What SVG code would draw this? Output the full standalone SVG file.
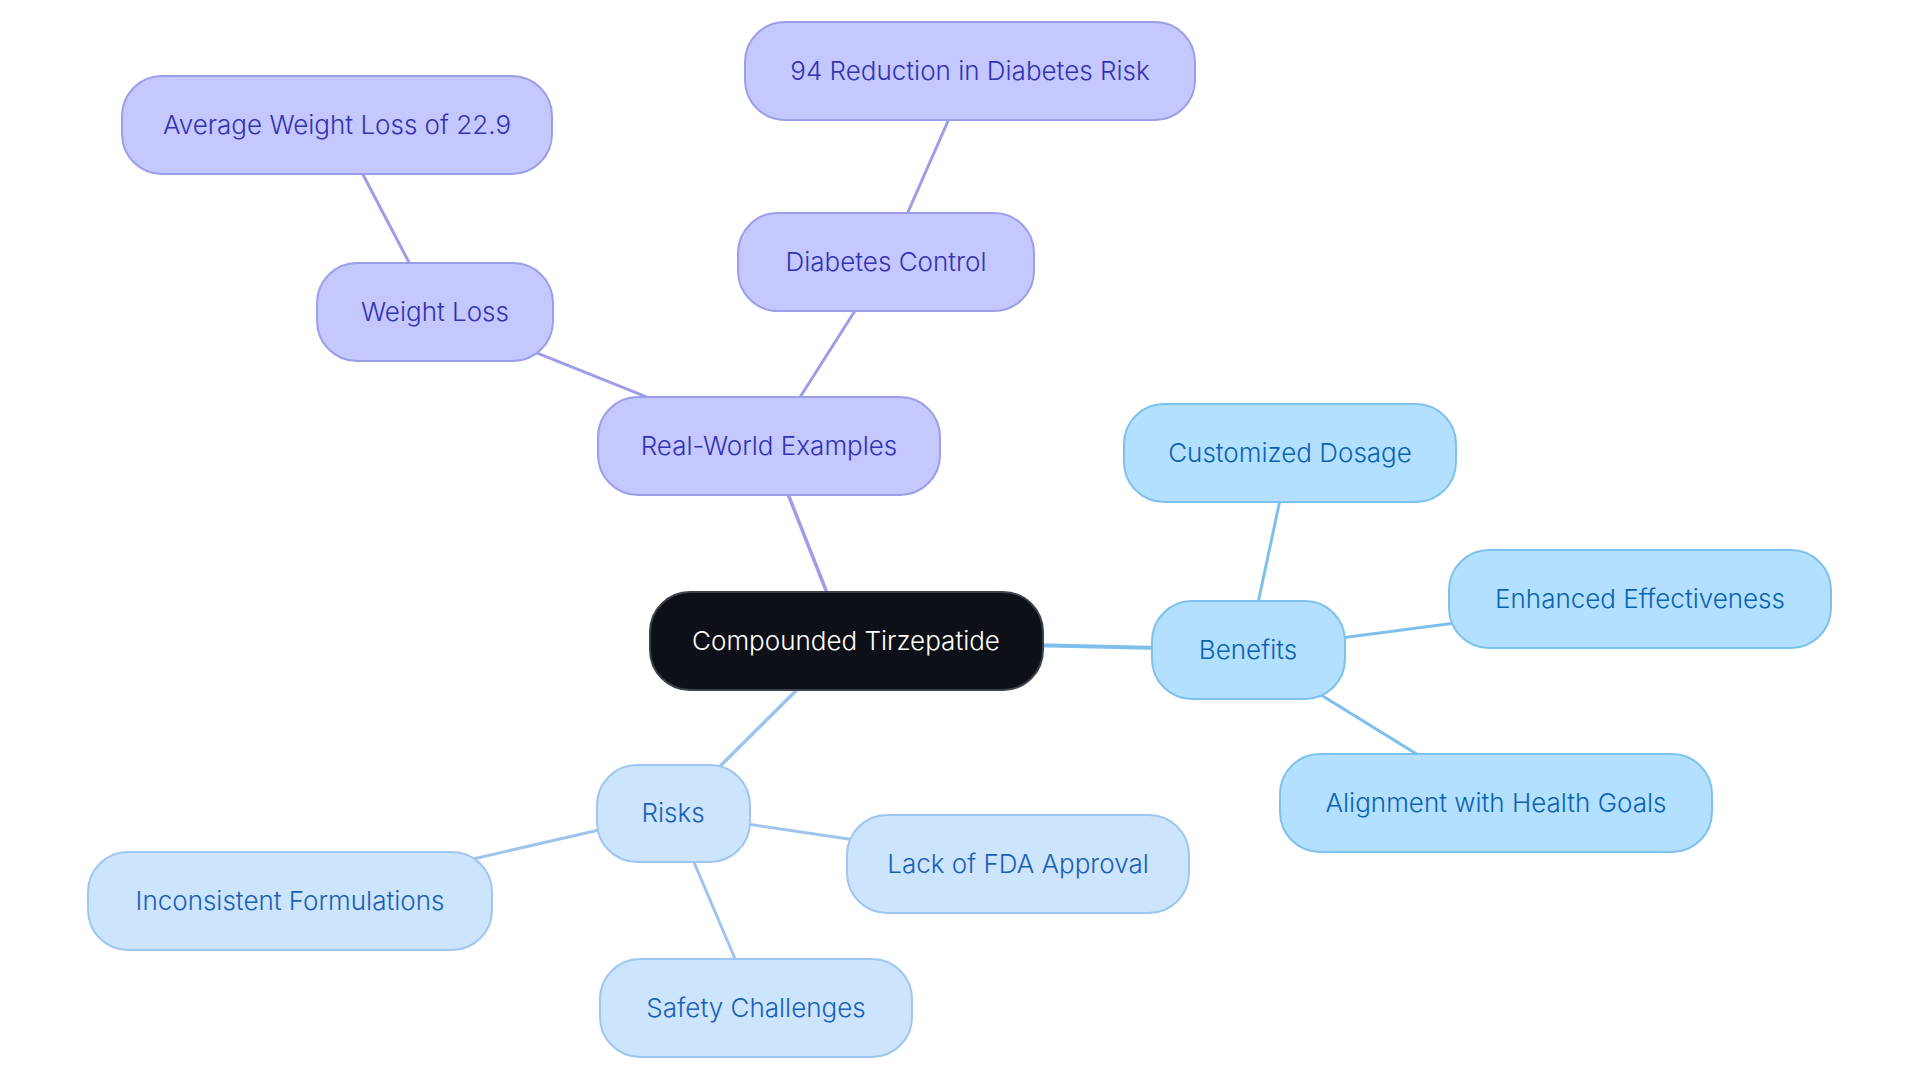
<svg xmlns="http://www.w3.org/2000/svg" width="1920" height="1083" viewBox="0 0 1920 1083">
<style>
  text { font-family: Inter, "Noto Sans", "Liberation Sans", sans-serif; font-size: 26px; font-weight: 300; text-anchor: middle; }
  .n rect { stroke-width: 2; }
  .p rect { fill: #c5c8fe; stroke: #9b9ee8; }
  .p text { fill: #3232b4; }
  .b rect { fill: #b3e0fe; stroke: #7ec1ee; }
  .b text { fill: #0b62b4; }
  .r rect { fill: #cce4fc; stroke: #9ec6f2; }
  .r text { fill: #1a5fb8; }
  .root rect { fill: #0d1117; stroke: #3d434c; }
  .root text { fill: #ffffff; }
  .e { stroke-linecap: round; fill: none; }
  .ep { stroke: #9d9de8; }
  .eb { stroke: #7fbfec; }
  .er { stroke: #9ec4ee; }
</style>
<rect width="1920" height="1083" fill="#ffffff"/>
<g id="connectors">
  <line class="e ep" stroke-width="3" x1="337" y1="125" x2="435" y2="312"/>
  <line class="e ep" stroke-width="3" x1="435" y1="312" x2="769" y2="446"/>
  <line class="e ep" stroke-width="3" x1="970" y1="71" x2="886" y2="262"/>
  <line class="e ep" stroke-width="3" x1="886" y1="262" x2="769" y2="446"/>
  <line class="e ep" stroke-width="3.5" x1="769" y1="446" x2="846" y2="641"/>
  <line class="e eb" stroke-width="4" x1="846" y1="641" x2="1248" y2="650"/>
  <line class="e eb" stroke-width="3" x1="1290" y1="453" x2="1248" y2="650"/>
  <line class="e eb" stroke-width="3" x1="1248" y1="650" x2="1640" y2="599"/>
  <line class="e eb" stroke-width="3" x1="1248" y1="650" x2="1496" y2="803"/>
  <line class="e er" stroke-width="3.5" x1="846" y1="641" x2="673" y2="813"/>
  <line class="e er" stroke-width="3" x1="673" y1="813" x2="1018" y2="864"/>
  <line class="e er" stroke-width="3" x1="673" y1="813" x2="290" y2="901"/>
  <line class="e er" stroke-width="3" x1="673" y1="813" x2="756" y2="1008"/>
</g>
<g id="node-avg-weight-loss" class="n p">
  <rect x="122" y="76" width="430" height="98" rx="40"/>
  <text x="337" y="134">Average Weight Loss of 22.9</text>
</g>
<g id="node-weight-loss" class="n p">
  <rect x="317" y="263" width="236" height="98" rx="40"/>
  <text x="435" y="321">Weight Loss</text>
</g>
<g id="node-94-reduction" class="n p">
  <rect x="745" y="22" width="450" height="98" rx="40"/>
  <text x="970" y="80">94 Reduction in Diabetes Risk</text>
</g>
<g id="node-diabetes-control" class="n p">
  <rect x="738" y="213" width="296" height="98" rx="40"/>
  <text x="886" y="271">Diabetes Control</text>
</g>
<g id="node-real-world" class="n p">
  <rect x="598" y="397" width="342" height="98" rx="40"/>
  <text x="769" y="455">Real-World Examples</text>
</g>
<g id="node-root" class="n root">
  <rect x="650" y="592" width="393" height="98" rx="40"/>
  <text x="846" y="650">Compounded Tirzepatide</text>
</g>
<g id="node-customized-dosage" class="n b">
  <rect x="1124" y="404" width="332" height="98" rx="40"/>
  <text x="1290" y="462">Customized Dosage</text>
</g>
<g id="node-enhanced" class="n b">
  <rect x="1449" y="550" width="382" height="98" rx="40"/>
  <text x="1640" y="608">Enhanced Effectiveness</text>
</g>
<g id="node-benefits" class="n b">
  <rect x="1152" y="601" width="193" height="98" rx="40"/>
  <text x="1248" y="659">Benefits</text>
</g>
<g id="node-alignment" class="n b">
  <rect x="1280" y="754" width="432" height="98" rx="40"/>
  <text x="1496" y="812">Alignment with Health Goals</text>
</g>
<g id="node-risks" class="n r">
  <rect x="597" y="765" width="153" height="97" rx="40"/>
  <text x="673" y="822">Risks</text>
</g>
<g id="node-lack-fda" class="n r">
  <rect x="847" y="815" width="342" height="98" rx="40"/>
  <text x="1018" y="873">Lack of FDA Approval</text>
</g>
<g id="node-inconsistent" class="n r">
  <rect x="88" y="852" width="404" height="98" rx="40"/>
  <text x="290" y="910">Inconsistent Formulations</text>
</g>
<g id="node-safety" class="n r">
  <rect x="600" y="959" width="312" height="98" rx="40"/>
  <text x="756" y="1017">Safety Challenges</text>
</g>
</svg>
